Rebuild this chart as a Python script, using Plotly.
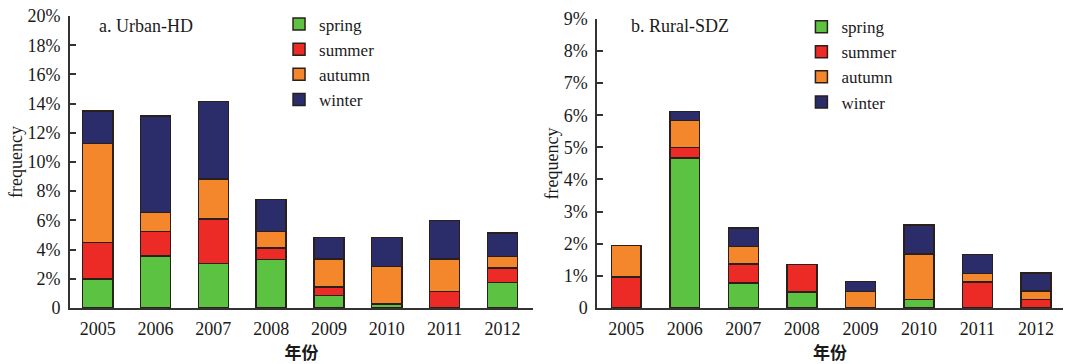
import plotly.graph_objects as go

years = ["2005", "2006", "2007", "2008", "2009", "2010", "2011", "2012"]
seasons = ["spring", "summer", "autumn", "winter"]
colors = ["#5cc241", "#ec2a26", "#f4872c", "#2b2d6b"]

# Urban-HD (percent)
urban_spring = [2.0, 3.55, 3.03, 3.31, 0.84, 0.27, 0.0, 1.76]
urban_summer = [2.5, 1.68, 3.07, 0.78, 0.58, 0.0, 1.14, 0.96]
urban_autumn = [6.75, 1.32, 2.74, 1.14, 1.94, 2.56, 2.22, 0.82]
urban_winter = [2.25, 6.6, 5.31, 2.19, 1.46, 2.01, 2.62, 1.58]

# Rural-SDZ (percent)
rural_spring = [0.0, 4.67, 0.78, 0.5, 0.0, 0.26, 0.0, 0.0]
rural_summer = [0.96, 0.33, 0.59, 0.85, 0.0, 0.0, 0.81, 0.26]
rural_autumn = [0.98, 0.83, 0.55, 0.0, 0.51, 1.42, 0.27, 0.26]
rural_winter = [0.0, 0.28, 0.57, 0.0, 0.31, 0.9, 0.58, 0.57]

urban_ticks = [0, 2, 4, 6, 8, 10, 12, 14, 16, 18, 20]
urban_ticktext = ["0", "2%", "4%", "6%", "8%", "10%", "12%", "14%", "16%", "18%", "20%"]
rural_ticks = [0, 1, 2, 3, 4, 5, 6, 7, 8, 9]
rural_ticktext = ["0", "1%", "2%", "3%", "4%", "5%", "6%", "7%", "8%", "9%"]

SERIF = "Liberation Serif"
TXT = "#1a1a1a"
urban = [urban_spring, urban_summer, urban_autumn, urban_winter]
rural = [rural_spring, rural_summer, rural_autumn, rural_winter]

fig = go.Figure()
for name, col, vals in zip(seasons, colors, urban):
    fig.add_trace(go.Bar(x=years, y=vals, name=name, xaxis="x", yaxis="y",
                         marker=dict(color=col, line=dict(color="#2a1f1a", width=1.5)),
                         width=0.52, legend="legend"))
for name, col, vals in zip(seasons, colors, rural):
    fig.add_trace(go.Bar(x=years, y=vals, name=name, xaxis="x2", yaxis="y2",
                         marker=dict(color=col, line=dict(color="#2a1f1a", width=1.5)),
                         width=0.51, legend="legend2"))

axis_common = dict(showline=True, linecolor="#333", linewidth=1.5, showgrid=False,
                   zeroline=False, automargin=False,
                   tickfont=dict(family=SERIF, size=18, color=TXT))

fig.update_layout(
    width=1065, height=364,
    margin=dict(l=0, r=0, t=0, b=0),
    paper_bgcolor="white", plot_bgcolor="white",
    barmode="stack", bargap=0.48,
    font=dict(family=SERIF, size=18, color=TXT),
    xaxis=dict(domain=[0.0657, 0.5005], range=[-0.48, 7.53], anchor="y",
               ticks="", ticklabelstandoff=4, **axis_common,
               title=dict(text="<b>年份</b>", font=dict(family="Noto Sans CJK SC", size=17, color=TXT), standoff=2)),
    yaxis=dict(domain=[0.154, 0.956], range=[0, 20], anchor="x",
               tickvals=urban_ticks, ticktext=urban_ticktext,
               ticks="inside", ticklen=6, tickwidth=1.5, tickcolor="#333",
               ticklabelstandoff=4, **axis_common,
               title=dict(text="frequency", font=dict(family=SERIF, size=18, color=TXT), standoff=0)),
    xaxis2=dict(domain=[0.5606, 0.998], range=[-0.5, 7.46], anchor="y2",
                ticks="", ticklabelstandoff=4, **axis_common,
                title=dict(text="<b>年份</b>", font=dict(family="Noto Sans CJK SC", size=17, color=TXT), standoff=2)),
    yaxis2=dict(domain=[0.154, 0.948], range=[0, 9], anchor="x2",
                tickvals=rural_ticks, ticktext=rural_ticktext,
                ticks="inside", ticklen=6, tickwidth=1.5, tickcolor="#333",
                ticklabelstandoff=4, **axis_common,
                title=dict(text="frequency", font=dict(family=SERIF, size=18, color=TXT), standoff=0)),
    legend=dict(x=0.262, y=0.982, xanchor="left", yanchor="top", traceorder="normal",
                bgcolor="rgba(0,0,0,0)", font=dict(family=SERIF, size=17, color=TXT),
                itemwidth=30, tracegroupgap=0),
    legend2=dict(x=0.7525, y=0.975, xanchor="left", yanchor="top", traceorder="normal",
                 bgcolor="rgba(0,0,0,0)", font=dict(family=SERIF, size=17, color=TXT),
                 itemwidth=30, tracegroupgap=0),
    annotations=[
        dict(text="a. Urban-HD", xref="paper", yref="paper", x=0.091, y=0.928,
             xanchor="left", yanchor="middle", showarrow=False,
             font=dict(family=SERIF, size=18, color=TXT)),
        dict(text="b. Rural-SDZ", xref="paper", yref="paper", x=0.591, y=0.928,
             xanchor="left", yanchor="middle", showarrow=False,
             font=dict(family=SERIF, size=18, color=TXT)),
    ],
)

fig.write_html("out.html")
